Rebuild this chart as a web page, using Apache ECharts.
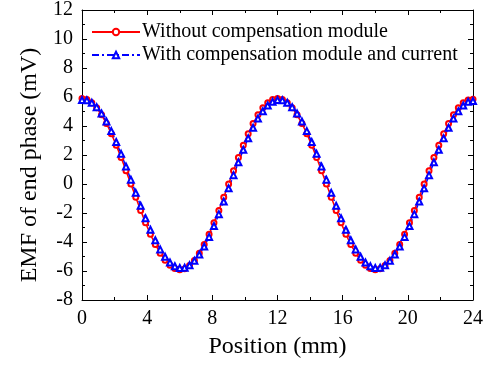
<!DOCTYPE html>
<html>
<head>
<meta charset="utf-8">
<script src="https://cdn.jsdelivr.net/npm/echarts@6/dist/echarts.min.js"></script>
<style>
  html, body { margin: 0; padding: 0; background: #fff; }
  #chart { width: 487px; height: 366px; }
</style>
</head>
<body>
<div id="chart"></div>
<script>
// positions along the axis (mm)
const position = [
  0, 0.3, 0.6, 0.9, 1.2, 1.5, 1.8, 2.1, 2.4, 2.7,
  3, 3.3, 3.6, 3.9, 4.2, 4.5, 4.8, 5.1, 5.4, 5.7,
  6, 6.3, 6.6, 6.9, 7.2, 7.5, 7.8, 8.1, 8.4, 8.7,
  9, 9.3, 9.6, 9.9, 10.2, 10.5, 10.8, 11.1, 11.4, 11.7,
  12, 12.3, 12.6, 12.9, 13.2, 13.5, 13.8, 14.1, 14.4, 14.7,
  15, 15.3, 15.6, 15.9, 16.2, 16.5, 16.8, 17.1, 17.4, 17.7,
  18, 18.3, 18.6, 18.9, 19.2, 19.5, 19.8, 20.1, 20.4, 20.7,
  21, 21.3, 21.6, 21.9, 22.2, 22.5, 22.8, 23.1, 23.4, 23.7,
  24
];

// EMF without compensation module (mV)
const emfWithout = [
  5.90, 5.83, 5.61, 5.26, 4.77, 4.17, 3.47, 2.68, 1.82, 0.92,
  0.00, -0.92, -1.82, -2.68, -3.47, -4.17, -4.77, -5.26, -5.61, -5.83,
  -5.92, -5.84, -5.62, -5.27, -4.78, -4.17, -3.47, -2.68, -1.82, -0.92,
  0.00, 0.92, 1.82, 2.68, 3.47, 4.17, 4.77, 5.26, 5.61, 5.83,
  5.90, 5.83, 5.61, 5.26, 4.77, 4.17, 3.47, 2.68, 1.82, 0.92,
  0.00, -0.92, -1.82, -2.68, -3.47, -4.17, -4.77, -5.26, -5.61, -5.83,
  -5.92, -5.84, -5.62, -5.27, -4.78, -4.17, -3.47, -2.68, -1.82, -0.92,
  0.00, 0.92, 1.82, 2.68, 3.47, 4.17, 4.77, 5.26, 5.61, 5.80,
  5.85
];

// EMF with compensation module and current (mV)
const emfWith = [
  5.79, 5.77, 5.60, 5.30, 4.86, 4.31, 3.65, 2.90, 2.08, 1.21,
  0.30, -0.61, -1.50, -2.36, -3.16, -3.88, -4.51, -5.02, -5.41, -5.67,
  -5.79, -5.77, -5.60, -5.30, -4.86, -4.31, -3.65, -2.90, -2.08, -1.21,
  -0.30, 0.61, 1.50, 2.36, 3.16, 3.88, 4.51, 5.02, 5.41, 5.67,
  5.79, 5.77, 5.60, 5.30, 4.86, 4.31, 3.65, 2.90, 2.08, 1.21,
  0.30, -0.61, -1.50, -2.36, -3.16, -3.88, -4.51, -5.02, -5.41, -5.67,
  -5.79, -5.77, -5.60, -5.30, -4.86, -4.31, -3.65, -2.90, -2.08, -1.21,
  -0.30, 0.61, 1.50, 2.36, 3.16, 3.88, 4.51, 5.02, 5.41, 5.67,
  5.72
];

const seriesNames = ['Without compensation module', 'With compensation module and current'];

const pairs = (ys) => position.map((x, i) => [x, ys[i]]);

const font = '"Liberation Serif", "Times New Roman", serif';

const axisBase = {
  axisLine: { show: true, onZero: false, lineStyle: { color: '#000', width: 1 } },
  axisTick: { show: true, inside: true, length: 5, lineStyle: { color: '#000' } },
  minorTick: { show: true, splitNumber: 2, length: 3, lineStyle: { color: '#000' } },
  splitLine: { show: false }
};

const getOption = () => {
  return {
    animation: false,
    backgroundColor: '#fff',
    grid: { left: 82, right: 14, top: 9, bottom: 66 },
    legend: {
      left: 86,
      top: 17,
      orient: 'vertical',
      itemGap: 3,
      itemWidth: 48,
      itemHeight: 8,
      textStyle: { fontFamily: font, fontSize: 20, color: '#000', padding: [0, 0, 0, -3] },
      data: seriesNames
    },
    xAxis: [
      {
        ...axisBase,
        type: 'value',
        min: 0, max: 24, interval: 4,
        name: 'Position (mm)',
        nameLocation: 'middle',
        nameGap: 35,
        nameTextStyle: { fontFamily: font, fontSize: 24, color: '#000' },
        axisLabel: { fontFamily: font, fontSize: 20, color: '#000', margin: 9 }
      },
      {
        ...axisBase,
        type: 'value',
        position: 'top',
        min: 0, max: 24, interval: 4,
        axisLabel: { show: false }
      }
    ],
    yAxis: [
      {
        ...axisBase,
        type: 'value',
        min: -8, max: 12, interval: 2,
        name: 'EMF of end phase (mV)',
        nameLocation: 'middle',
        nameGap: 40,
        nameTextStyle: { fontFamily: font, fontSize: 24, color: '#000', padding: [0, 20, 0, 0] },
        axisLabel: { fontFamily: font, fontSize: 20, color: '#000', margin: 9 }
      },
      {
        ...axisBase,
        type: 'value',
        position: 'right',
        min: -8, max: 12, interval: 2,
        axisLabel: { show: false }
      }
    ],
    series: [
      {
        name: seriesNames[0],
        type: 'line',
        data: pairs(emfWithout),
        xAxisIndex: 0,
        yAxisIndex: 0,
        symbol: 'emptyCircle',
        symbolSize: 5,
        showSymbol: true,
        showAllSymbol: true,
        color: '#ff0000',
        lineStyle: { color: '#ff0000', width: 1.5 },
        itemStyle: { color: '#ff0000', borderColor: '#ff0000', borderWidth: 1 }
      },
      {
        name: seriesNames[1],
        type: 'line',
        data: pairs(emfWith),
        xAxisIndex: 0,
        yAxisIndex: 0,
        symbol: 'emptyTriangle',
        symbolSize: 6,
        showSymbol: true,
        showAllSymbol: true,
        color: '#0000ff',
        lineStyle: { color: '#0000ff', width: 1.5, type: [7, 3, 2, 3] },
        itemStyle: { color: '#0000ff', borderColor: '#0000ff', borderWidth: 1 }
      }
    ]
  };
};

const chart = echarts.init(document.querySelector('#chart'), null, { renderer: 'canvas' });
chart.setOption(getOption());
</script>
</body>
</html>
